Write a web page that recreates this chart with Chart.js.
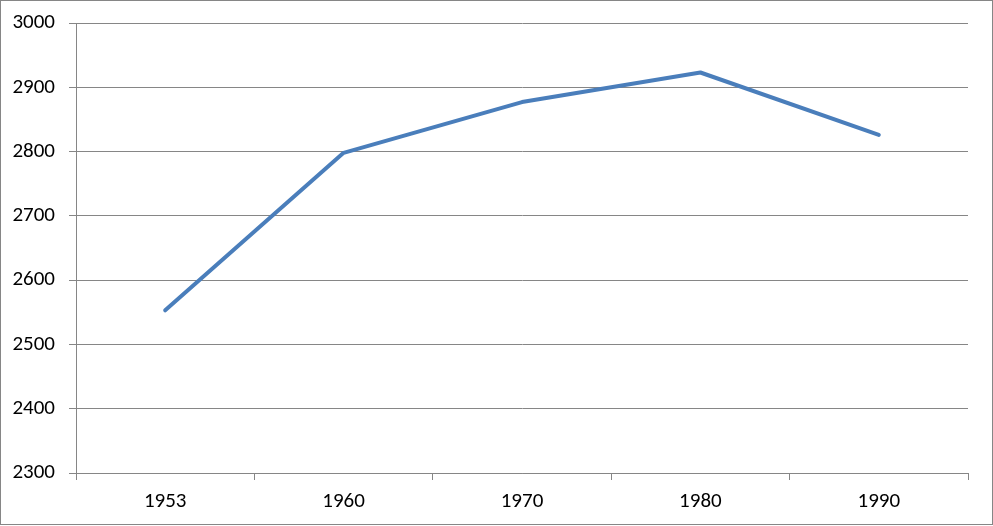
<!DOCTYPE html>
<html><head><meta charset="utf-8">
<script src="https://cdn.jsdelivr.net/npm/chart.js@4"></script>
<style>html,body{margin:0;padding:0;background:#fff}#w{width:993px;height:526px}</style>
</head><body><div id="w"><canvas id="c" width="993" height="526"></canvas></div>
<script>
const categories = ["1953", "1960", "1970", "1980", "1990"];
const values = [2553, 2798, 2877, 2923, 2826];
const yTicks = [2300, 2400, 2500, 2600, 2700, 2800, 2900, 3000];

const FONT = "Carlito, Calibri, 'Liberation Sans', sans-serif";
const border = {
  id: 'border',
  afterDraw(chart) {
    const ctx = chart.ctx;
    ctx.save();
    ctx.strokeStyle = '#868686';
    ctx.lineWidth = 1;
    ctx.strokeRect(0.5, 0.5, chart.width - 1, chart.height - 2);
    ctx.restore();
  }
};
new Chart(document.getElementById('c'), {
  type: 'line',
  data: { labels: categories, datasets: [{ data: values, borderColor: '#4a7ebb', borderWidth: 4, pointRadius: 0, tension: 0, borderCapStyle: 'round', borderJoinStyle: 'round' }] },
  options: {
    responsive: false, animation: false,
    layout: { padding: { top: 23, right: 25, left: 0, bottom: 0 } },
    plugins: { legend: { display: false }, tooltip: { enabled: false } },
    scales: {
      x: {
        offset: true,
        grid: { offset: true, drawOnChartArea: false, drawTicks: true, tickLength: 7, color: '#868686', lineWidth: 1 },
        border: { display: true, color: '#868686', width: 1 },
        ticks: { color: '#000', font: { family: FONT, size: 21 }, padding: 9, maxRotation: 0 },
        afterFit(s) { s.height = 53; }
      },
      y: {
        min: 2300, max: 3000,
        afterBuildTicks(s) { s.ticks = yTicks.map(v => ({ value: v })); },
        grid: { color: '#868686', lineWidth: 1, drawTicks: true, tickLength: 7 },
        border: { display: true, color: '#868686', width: 1 },
        ticks: { color: '#000', font: { family: FONT, size: 21, lineHeight: 1 }, padding: 14, callback: v => String(v) },
        afterFit(s) { s.width = 76; s.paddingTop = 0; s.paddingBottom = 0; }
      }
    }
  },
  plugins: [border]
});
</script></body></html>
